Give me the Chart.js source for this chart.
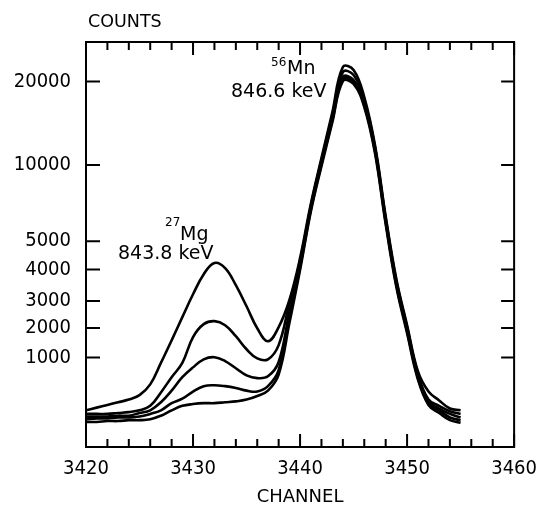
<!DOCTYPE html>
<html>
<head>
<meta charset="utf-8">
<script src="https://cdn.jsdelivr.net/npm/chart.js@4.4.0/dist/chart.umd.min.js"></script>
<style>
  html, body { margin: 0; padding: 0; background: #fff; }
  #wrap { width: 547px; height: 506px; }
</style>
</head>
<body>
<div id="wrap"><canvas id="spectrum"></canvas></div>
<script>
const channels = [3420, 3421, 3422, 3423, 3424, 3425, 3426, 3427, 3428, 3429,
  3430, 3431, 3432, 3433, 3434, 3435, 3436, 3437, 3438, 3439,
  3440, 3441, 3442, 3443, 3444, 3445, 3446, 3447, 3448, 3449,
  3450, 3451, 3452, 3453, 3454, 3455];

const counts1 = [410, 440, 470, 500, 530, 580, 700, 940, 1580, 2400,
  3210, 3850, 4230, 4050, 3500, 2800, 1990, 1550, 2030, 3020,
  4400, 7430, 10840, 16230, 21840, 21460, 18140, 12400, 6640, 3690,
  2100, 850, 620, 520, 430, 410];
const counts2 = [370, 370, 370, 380, 390, 410, 460, 610, 780, 940,
  1690, 2140, 2250, 2100, 1720, 1280, 990, 980, 1420, 2910,
  4290, 7300, 10600, 15870, 21200, 20820, 17780, 12160, 6510, 3630,
  2030, 820, 530, 460, 400, 370];
const counts3 = [340, 340, 340, 350, 350, 380, 410, 500, 630, 780,
  890, 980, 1010, 960, 880, 800, 770, 790, 950, 2580,
  4190, 7170, 10360, 15510, 20570, 20190, 17430, 11920, 6380, 3560,
  1960, 800, 510, 430, 370, 330];
const counts4 = [310, 320, 320, 330, 330, 340, 370, 410, 490, 540,
  620, 680, 690, 680, 660, 630, 620, 680, 860, 2360,
  4080, 7040, 10120, 15270, 20320, 19940, 17190, 11680, 6250, 3500,
  1890, 780, 490, 410, 330, 300];
const counts5 = [280, 280, 290, 290, 300, 300, 310, 350, 410, 460,
  480, 490, 490, 500, 510, 530, 570, 630, 810, 2170,
  3980, 6910, 9930, 15030, 20060, 19700, 16950, 11440, 6120, 3440,
  1820, 760, 470, 380, 300, 270];

const countTicks = [1000, 2000, 3000, 4000, 5000, 10000, 20000];
const channelTicks = [3420, 3430, 3440, 3450, 3460];

// the printed COUNTS axis is neither linear nor log: each labelled value
// sits at its own height, given here as a fraction of the axis height
const countAxisStops = [[0, 0], [1000, 0.2209], [2000, 0.294], [3000, 0.3608],
  [4000, 0.4383], [5000, 0.5083], [10000, 0.6961], [20000, 0.9024], [25000, 1]];

class CountsScale extends Chart.LinearScale {
  static id = 'counts';
  static defaults = {};

  buildTicks() {
    return countTicks.map(v => ({ value: v }));
  }
  toFraction(v) {
    const s = countAxisStops;
    for (let i = 1; i < s.length; i++) {
      if (v <= s[i][0] || i === s.length - 1) {
        const [v0, f0] = s[i - 1], [v1, f1] = s[i];
        return f0 + (v - v0) / (v1 - v0) * (f1 - f0);
      }
    }
  }
  getPixelForValue(v) {
    return this.bottom - this.toFraction(v) * (this.bottom - this.top);
  }
  getValueForPixel(p) {
    const f = (this.bottom - p) / (this.bottom - this.top);
    const s = countAxisStops;
    for (let i = 1; i < s.length; i++) {
      if (f <= s[i][1] || i === s.length - 1) {
        const [v0, f0] = s[i - 1], [v1, f1] = s[i];
        return v0 + (f - f0) / (f1 - f0) * (v1 - v0);
      }
    }
  }
}
Chart.register(CountsScale);

const tickFont = '"DejaVu Sans Condensed", "DejaVu Sans", sans-serif';
Chart.defaults.font.family = '"DejaVu Sans", sans-serif';
Chart.defaults.color = '#000';

function toPoints(values) {
  return values.map((v, i) => ({ x: channels[i], y: v }));
}

// frame, inward tick marks on all four sides, and the hand lettering
const frameAndLabels = {
  id: 'frameAndLabels',
  afterDraw(chart) {
    const { ctx, chartArea: a, scales: { x, y } } = chart;
    ctx.save();
    ctx.strokeStyle = '#000';
    ctx.lineWidth = 2;
    ctx.strokeRect(a.left, a.top, a.right - a.left, a.bottom - a.top);

    ctx.beginPath();
    for (let c = channelTicks[0]; c <= channelTicks[channelTicks.length - 1]; c += 2) {
      const px = x.getPixelForValue(c);
      const len = c % 10 === 0 ? 13 : 8;
      ctx.moveTo(px, a.bottom); ctx.lineTo(px, a.bottom - len);
      ctx.moveTo(px, a.top); ctx.lineTo(px, a.top + len);
    }
    countTicks.forEach(v => {
      const py = y.getPixelForValue(v);
      ctx.moveTo(a.left, py); ctx.lineTo(a.left + 14, py);
      ctx.moveTo(a.right, py); ctx.lineTo(a.right - 13, py);
    });
    ctx.stroke();

    ctx.fillStyle = '#000';
    ctx.textBaseline = 'alphabetic';
    ctx.textAlign = 'left';
    ctx.font = '17.5px "DejaVu Sans"';
    ctx.fillText('COUNTS', 88, 27);

    ctx.font = '12px "DejaVu Sans"';
    ctx.fillText('27', 165, 226);
    ctx.font = '19px "DejaVu Sans"';
    ctx.fillText('Mg', 180, 240);
    ctx.fillText('843.8 keV', 118, 259);

    ctx.font = '12px "DejaVu Sans"';
    ctx.fillText('56', 271, 66);
    ctx.font = '19px "DejaVu Sans"';
    ctx.fillText('Mn', 287, 74);
    ctx.fillText('846.6 keV', 231, 97);
    ctx.restore();
  }
};

const lineStyle = {
  borderColor: '#000',
  borderWidth: 2.6,
  pointRadius: 0,
  fill: false,
  tension: 0.4
};

new Chart(document.getElementById('spectrum'), {
  type: 'line',
  data: {
    datasets: [
      { label: 'spectrum 1', data: toPoints(counts1), ...lineStyle },
      { label: 'spectrum 2', data: toPoints(counts2), ...lineStyle },
      { label: 'spectrum 3', data: toPoints(counts3), ...lineStyle },
      { label: 'spectrum 4', data: toPoints(counts4), ...lineStyle },
      { label: 'spectrum 5', data: toPoints(counts5), ...lineStyle }
    ]
  },
  options: {
    responsive: true,
    maintainAspectRatio: false,
    animation: false,
    devicePixelRatio: 1,
    layout: { padding: { left: 13, right: 24, top: 42, bottom: 0 } },
    plugins: { legend: { display: false }, tooltip: { enabled: false } },
    scales: {
      x: {
        type: 'linear',
        min: 3420,
        max: 3460,
        afterBuildTicks: s => { s.ticks = channelTicks.map(v => ({ value: v })); },
        afterFit: s => { s.height = 59; },
        grid: { display: false, drawTicks: false },
        border: { display: false },
        ticks: { padding: 10, font: { family: tickFont, size: 20 }, callback: v => String(v), maxRotation: 0 },
        title: { display: true, text: 'CHANNEL', font: { size: 18, lineHeight: 1 }, padding: 0 }
      },
      y: {
        type: 'counts',
        min: 0,
        max: 25000,
        afterFit: s => { s.width = 73; },
        grid: { display: false, drawTicks: false },
        border: { display: false },
        ticks: { padding: 15, font: { family: tickFont, size: 20 }, callback: v => String(v) }
      }
    }
  },
  plugins: [frameAndLabels]
});
</script>
</body>
</html>
